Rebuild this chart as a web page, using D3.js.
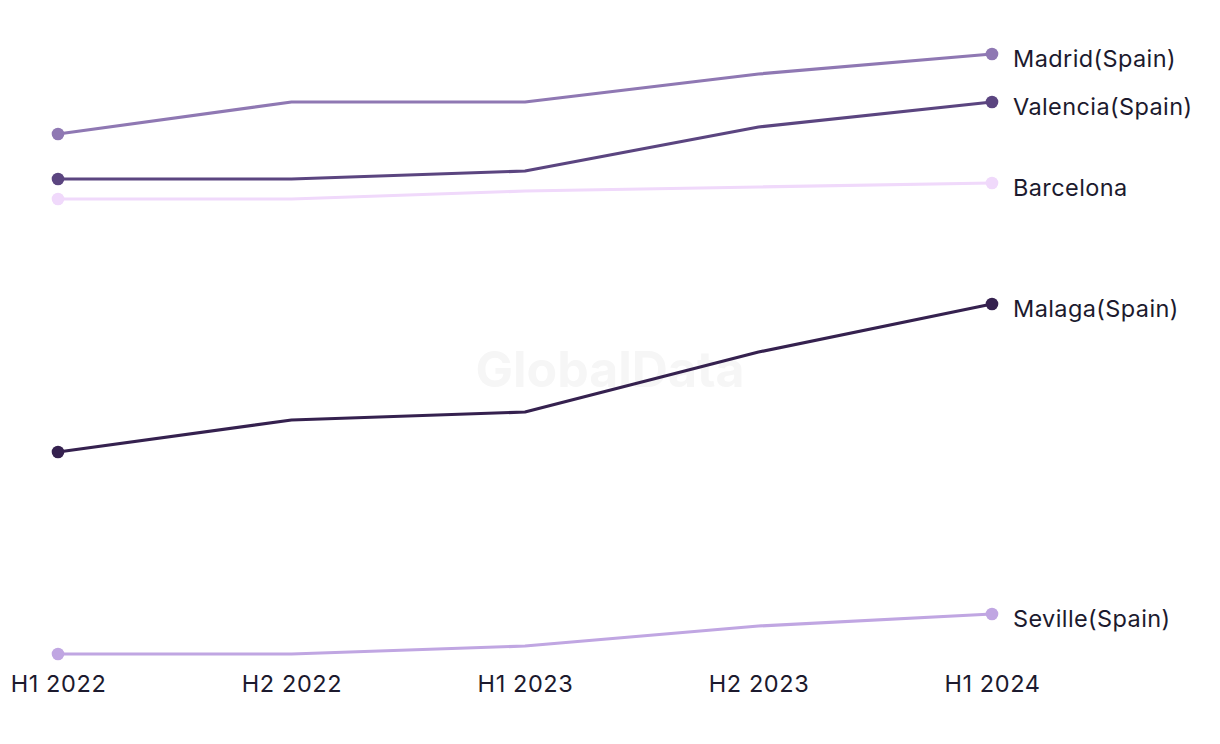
<!DOCTYPE html>
<html><head><meta charset="utf-8">
<script src="https://cdn.jsdelivr.net/npm/d3@7"></script>
<style>body{margin:0;background:#fff;}svg{display:block;font-family:"Inter","Liberation Sans",sans-serif;}</style>
</head><body><svg id="c" width="1220" height="744"></svg>
<script>
const periods = ["H1 2022","H2 2022","H1 2023","H2 2023","H1 2024"];
const seriesNames = ["Madrid(Spain)","Valencia(Spain)","Barcelona","Malaga(Spain)","Seville(Spain)"];
const madrid    = [520,552,552,580,600];
const valencia  = [475,475,483,527,552];
const barcelona = [455,455,463,467,471];
const malaga    = [202,234,242,302,350];
const seville   = [0,0,8,28,40];
const colors = ["#8f78b3","#5b4580","#f0d9fb","#35214f","#c0a6e2"];
const seriesValues = [madrid,valencia,barcelona,malaga,seville];

const svg = d3.select("#c");
const x = d3.scalePoint().domain(periods).range([58,992]);
const y = d3.scaleLinear().domain([0,600]).range([654,54]);

svg.append("text").attr("x",610).attr("y",373).attr("text-anchor","middle")
  .attr("dominant-baseline","middle").attr("font-size",50).attr("font-weight",700)
  .attr("fill","#f6f6f6").text("GlobalData");

const line = d3.line().x((d,i)=>x(periods[i])).y(d=>y(d));
seriesValues.forEach((vals,k)=>{
  const g = svg.append("g");
  g.append("path").datum(vals).attr("d",line).attr("fill","none")
    .attr("stroke",colors[k]).attr("stroke-width",3.2).attr("stroke-linejoin","round");
  g.append("circle").attr("cx",x(periods[0])).attr("cy",y(vals[0])).attr("r",6.3).attr("fill",colors[k]);
  g.append("circle").attr("cx",x(periods[4])).attr("cy",y(vals[4])).attr("r",6.3).attr("fill",colors[k]);
  g.append("text").attr("x",x(periods[4])+21).attr("y",y(vals[4])+6.5)
    .attr("dominant-baseline","middle").attr("font-size",23.5).attr("letter-spacing",0.4).attr("fill","#1c1a2e")
    .text(seriesNames[k]);
});

const ax = svg.append("g").attr("transform","translate(0,675)")
  .call(d3.axisBottom(x).tickSize(0).tickPadding(0));
ax.select(".domain").remove();
ax.selectAll("text").attr("font-size",23.5).attr("letter-spacing",0.6).attr("fill","#1c1a2e").attr("font-family","Inter, Liberation Sans, sans-serif");
</script></body></html>
